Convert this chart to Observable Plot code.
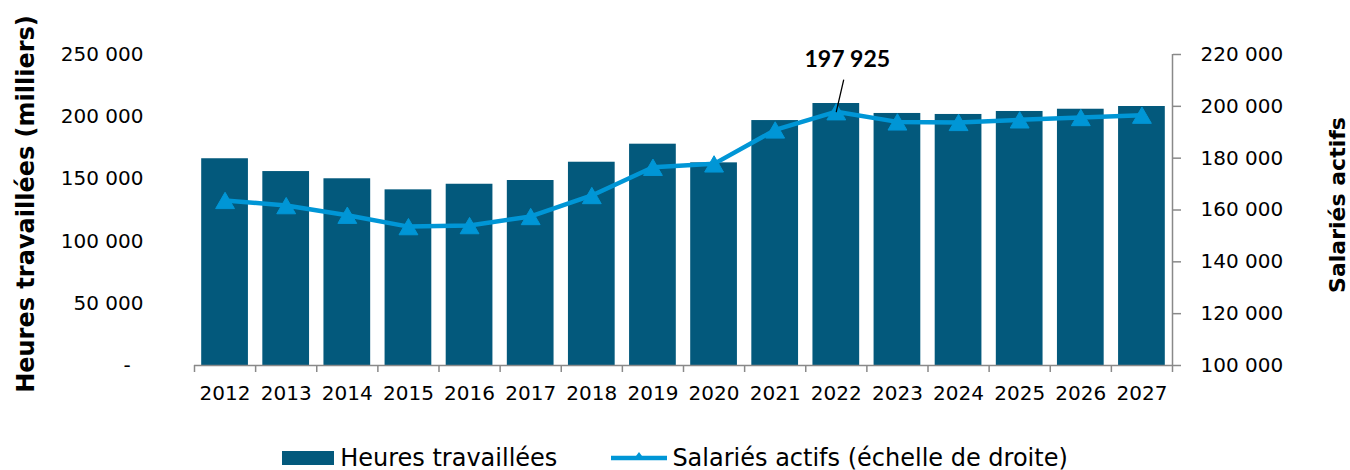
<!DOCTYPE html>
<html>
<head>
<meta charset="utf-8">
<script src="https://cdn.jsdelivr.net/npm/d3@7"></script>
<script src="https://cdn.jsdelivr.net/npm/@observablehq/plot@0.6"></script>
<style>
  html, body { margin: 0; padding: 0; background: #fff; }
  #chart { width: 1350px; }
  #legend { width: 1350px; height: 36px; display: flex; justify-content: center; align-items: center;
            font-family: "DejaVu Sans", sans-serif; font-size: 24px; color: #000; }
  #legend .item { display: flex; align-items: center; }
  #legend .swatch { width: 52px; height: 14px; background: #03597c; margin-right: 6px; }
</style>
</head>
<body>
<div id="chart"></div>
<div id="legend"></div>
<script>
const years = [2012, 2013, 2014, 2015, 2016, 2017, 2018, 2019, 2020, 2021, 2022, 2023, 2024, 2025, 2026, 2027];
const hours = [166200, 155900, 150100, 141200, 145700, 148700, 163400, 177900, 162900, 196900, 210600, 202600, 201800, 204200, 206000, 208200];
const employees = [163700, 161700, 158000, 153600, 154000, 157500, 165600, 176500, 177800, 190900, 197925, 194000, 193800, 194800, 195700, 196600];
const leftTicks = [0, 50000, 100000, 150000, 200000, 250000];
const rightTicks = [100000, 120000, 140000, 160000, 180000, 200000, 220000];
const peakYear = 2022;
const peakLabel = "197 925";
const leftTitle = "Heures travaillées (milliers)";
const rightTitle = "Salariés actifs";
const legendBars = "Heures travaillées";
const legendLine = "Salariés actifs (échelle de droite)";

const BAR = "#03597c", LINE = "#0096d6", AXIS = "#898989";
const leftMax = 250000, rightMin = 100000, rightMax = 220000;
const toLeft = v => (v - rightMin) * leftMax / (rightMax - rightMin);
const toRight = v => Math.round(v * (rightMax - rightMin) / leftMax + rightMin);

const fr = d3.formatLocale({decimal: ",", thousands: " ", grouping: [3], currency: ["", ""]});
const fmt = fr.format(",");

const data = years.map((year, i) => ({year, hours: hours[i], employees: employees[i]}));
const peak = data.filter(d => d.year === peakYear);
const boundaries = [...years.map(y => y - 0.5), years[years.length - 1] + 0.5];

const width = 1350, height = 440;
const chart = Plot.plot({
  width, height,
  marginTop: 54, marginBottom: 75, marginLeft: 194, marginRight: 178,
  style: {fontFamily: "DejaVu Sans, sans-serif", fontSize: "20px", color: "#000", background: "#fff", overflow: "visible"},
  x: {type: "linear", domain: [years[0] - 0.5, years[years.length - 1] + 0.5]},
  y: {domain: [0, leftMax]},
  marks: [
    Plot.rectY(data, {x1: d => d.year - 0.5, x2: d => d.year + 0.5, y: "hours", fill: BAR, insetLeft: 7.2, insetRight: 7.2}),
    Plot.ruleY([0], {stroke: AXIS, strokeWidth: 1.5}),
    Plot.ruleX([years[years.length - 1] + 0.5], {y1: 0, y2: leftMax, stroke: AXIS, strokeWidth: 1.5}),
    Plot.axisX(boundaries, {tickSize: 7, tickFormat: () => "", stroke: AXIS, strokeWidth: 1.5, label: null}),
    Plot.axisX(years, {tickSize: 0, tickPadding: 20, tickFormat: d => String(d), fontSize: 20, label: null}),
    Plot.axisY(leftTicks, {anchor: "left", tickSize: 0, tickPadding: 51, fontSize: 20,
      tickFormat: d => d === 0 ? "-\u00a0\u00a0" : fmt(d), label: null}),
    Plot.axisY(rightTicks.map(toLeft), {anchor: "right", tickSize: 8, tickPadding: 20, fontSize: 20,
      stroke: AXIS, strokeWidth: 1.5, textAnchor: "start", tickFormat: d => fmt(toRight(d)), label: null}),
    Plot.line(data, {x: "year", y: d => toLeft(d.employees), stroke: LINE, strokeWidth: 4.5}),
    Plot.dot(data, {x: "year", y: d => toLeft(d.employees), symbol: "triangle", r: 7, fill: LINE, stroke: LINE, strokeWidth: 1, dy: 2.75}),
    Plot.vector(peak, {x: "year", y: d => toLeft(d.employees), length: 32.5, rotate: 13, anchor: "start",
      stroke: "#000", strokeWidth: 1.3,
      shape: {draw(context, l) { context.moveTo(0, 0); context.lineTo(0, -l); }}}),
    Plot.text(peak, {x: "year", y: d => toLeft(d.employees), text: () => peakLabel, dx: 11, dy: -52,
      fontFamily: "Lato, 'Liberation Sans', sans-serif", fontWeight: "bold", fontSize: 23, fill: "#000"}),
    Plot.text([leftTitle], {frameAnchor: "left", text: d => d, rotate: -90, textAnchor: "middle", dx: -168, dy: -6,
      fontSize: 24, fontWeight: "bold", fill: "#000"}),
    Plot.text([rightTitle], {frameAnchor: "right", text: d => d, rotate: -90, textAnchor: "middle", dx: 165, dy: -5,
      fontSize: 22, fontWeight: "bold", fill: "#000"})
  ]
});
document.getElementById("chart").appendChild(chart);

const legend = document.getElementById("legend");
legend.innerHTML = `
  <div class="item"><div class="swatch"></div><span>${legendBars}</span></div>
  <div class="item" style="margin-left:54px">
    <svg width="56" height="20" style="margin-right:5px">
      <line x1="0" y1="10" x2="56" y2="10" stroke="${LINE}" stroke-width="4.5" stroke-linecap="round"></line>
      <path d="M28,4 L34,12 L22,12 Z" fill="${LINE}"></path>
    </svg><span>${legendLine}</span></div>`;
</script>
</body>
</html>
